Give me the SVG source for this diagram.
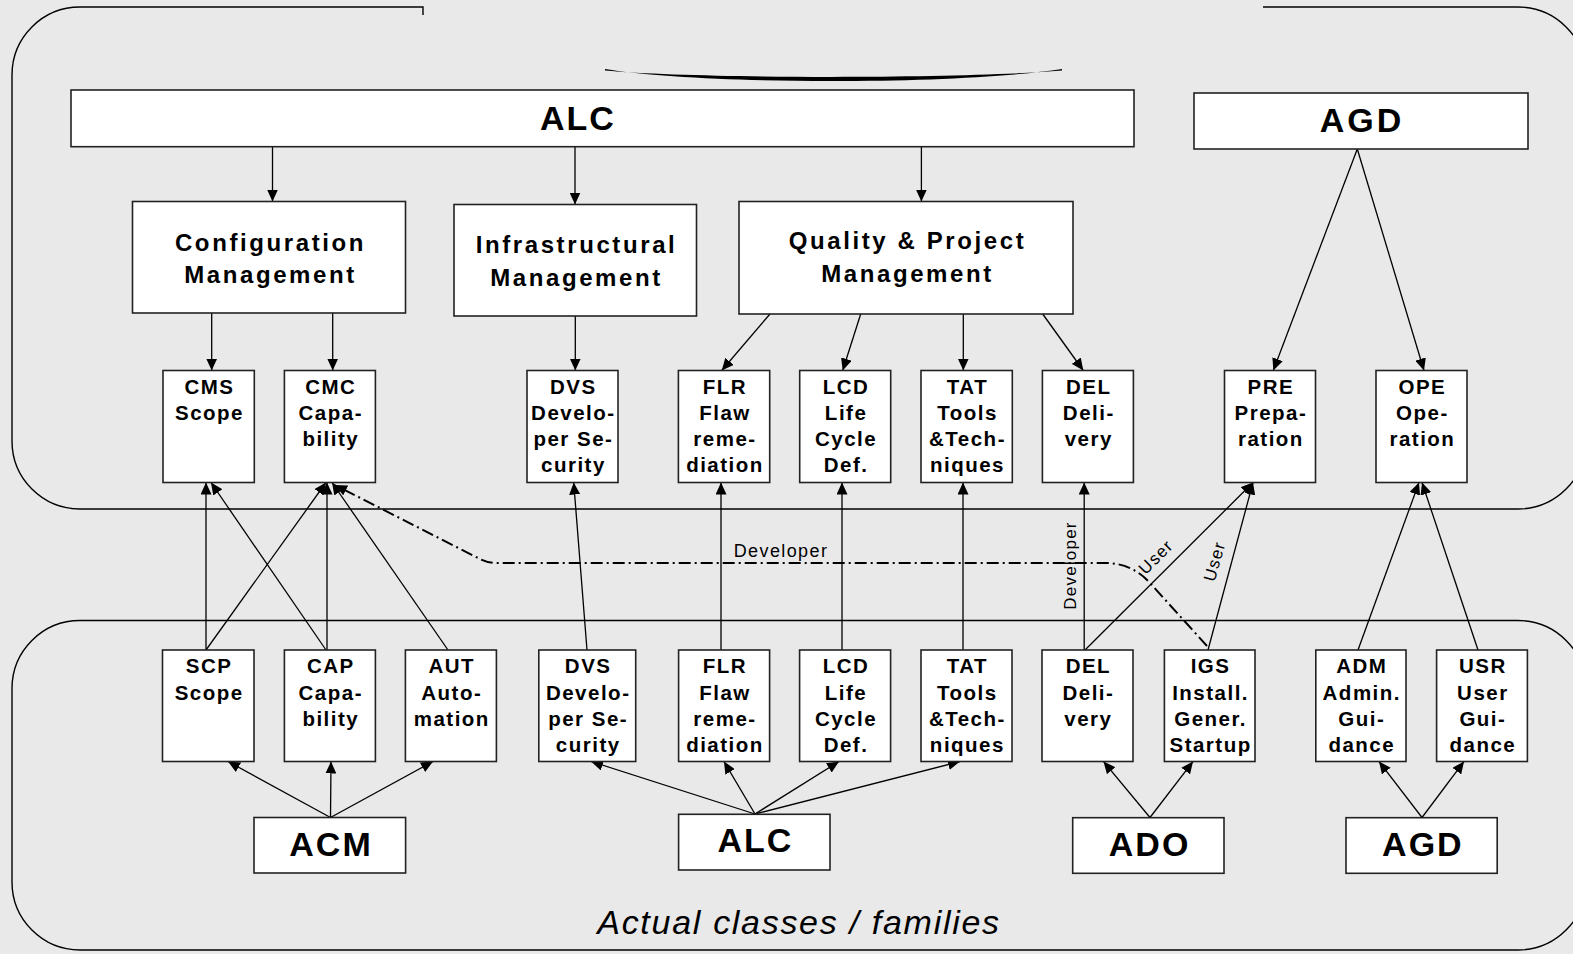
<svg xmlns="http://www.w3.org/2000/svg" width="1573" height="954" viewBox="0 0 1573 954">
<style>
.bg{fill:#e9e9e9}
.cont{fill:none;stroke:#000;stroke-width:1.4}
.box{fill:#fff;stroke:#222;stroke-width:1.6}
.t{font-family:"Liberation Sans",Arial,sans-serif;font-weight:bold;fill:#000;text-anchor:middle}
.big{font-size:24px;letter-spacing:2.6px}
.sm{font-size:20.5px;letter-spacing:1.5px}
.fam{font-size:34px;letter-spacing:2px}
.lbl{font-family:"Liberation Sans",Arial,sans-serif;fill:#000;text-anchor:middle;font-size:17px;letter-spacing:1.2px}
.cap{font-family:"Liberation Sans",Arial,sans-serif;font-style:italic;fill:#000;text-anchor:middle;font-size:34px;letter-spacing:1.7px}
.ln{fill:none;stroke:#000;stroke-width:1.3;marker-end:url(#ah)}
.dd{fill:none;stroke:#000;stroke-width:2;stroke-dasharray:12 4 2 4;marker-end:url(#ah)}
</style>
<defs>
<marker id="ah" markerUnits="userSpaceOnUse" viewBox="0 0 12 11" markerWidth="12" markerHeight="11" refX="12" refY="5.5" orient="auto">
<path d="M0,0 L12,5.5 L0,11 Z" fill="#000"/>
</marker>
</defs>
<rect class="bg" x="0" y="0" width="1573" height="954"/>
<g id="containers">
<path class="cont" d="M423,15 V7 H80 A68,68 0 0 0 12,75 V441 A68,68 0 0 0 80,509 H1518 A68,68 0 0 0 1586,441 V75 A68,68 0 0 0 1518,7 H1263"/>
<path d="M605,69 C700,85 960,85 1062,69 L1062,70.5 C960,79 700,79 605,70.5 Z" fill="#000"/>
<path class="cont" d="M80,620.5 A68,68 0 0 0 12,688.5 V882 A68,68 0 0 0 80,950 H1518 A68,68 0 0 0 1586,882 V688.5 A68,68 0 0 0 1518,620.5 Z"/>
<text class="cap" x="799" y="934">Actual classes / families</text>
</g>
<g id="connectors">
<line class="ln" x1="272.5" y1="146.7" x2="272.5" y2="201.5"/>
<line class="ln" x1="575" y1="146.7" x2="575" y2="204.5"/>
<line class="ln" x1="921.4" y1="146.7" x2="921.4" y2="201.5"/>
<line class="ln" x1="211.7" y1="313" x2="211.7" y2="370.5"/>
<line class="ln" x1="332.7" y1="313" x2="332.7" y2="370.5"/>
<line class="ln" x1="575.3" y1="316" x2="575.3" y2="370.5"/>
<line class="ln" x1="770" y1="314" x2="721.7" y2="370.5"/>
<line class="ln" x1="860.7" y1="314" x2="842.7" y2="370.5"/>
<line class="ln" x1="963.3" y1="314" x2="963.3" y2="370.5"/>
<line class="ln" x1="1042.7" y1="314" x2="1083.3" y2="370.5"/>
<line class="ln" x1="1357.3" y1="149" x2="1273.3" y2="370.5"/>
<line class="ln" x1="1357.3" y1="149" x2="1424" y2="370.5"/>
<line class="ln" x1="206" y1="650" x2="206" y2="482.5"/>
<line class="ln" x1="326" y1="650" x2="211" y2="482.5"/>
<line class="ln" x1="206" y1="650" x2="326" y2="482.5"/>
<line class="ln" x1="327" y1="650" x2="327" y2="482.5"/>
<line class="ln" x1="448" y1="650" x2="332" y2="482.5"/>
<line class="ln" x1="587" y1="650" x2="573.7" y2="482.5"/>
<line class="ln" x1="721" y1="650" x2="721" y2="482.5"/>
<line class="ln" x1="842" y1="650" x2="842" y2="482.5"/>
<line class="ln" x1="963" y1="650" x2="963" y2="482.5"/>
<line class="ln" x1="1084.2" y1="650" x2="1084.2" y2="482.5"/>
<line class="ln" x1="1085" y1="650" x2="1253" y2="482.5"/>
<line class="ln" x1="1208" y1="650" x2="1253" y2="482.5"/>
<line class="ln" x1="1358" y1="650" x2="1419" y2="482.5"/>
<line class="ln" x1="1478" y1="650" x2="1422" y2="482.5"/>
<path class="dd" d="M1207,646 L1150,583 Q1132,563 1105,563 H497 Q488,563 480,559 L335,485"/>
<line class="ln" x1="330.5" y1="817.5" x2="228" y2="761.5"/>
<line class="ln" x1="330.5" y1="817.5" x2="331" y2="761.5"/>
<line class="ln" x1="330.5" y1="817.5" x2="433" y2="761.5"/>
<line class="ln" x1="755" y1="814" x2="591" y2="761.5"/>
<line class="ln" x1="755" y1="814" x2="724" y2="761.5"/>
<line class="ln" x1="755" y1="814" x2="839" y2="761.5"/>
<line class="ln" x1="755" y1="814" x2="960" y2="761.5"/>
<line class="ln" x1="1150" y1="817.5" x2="1103.5" y2="761.5"/>
<line class="ln" x1="1150" y1="817.5" x2="1193" y2="761.5"/>
<line class="ln" x1="1422" y1="817.5" x2="1379" y2="761.5"/>
<line class="ln" x1="1422" y1="817.5" x2="1464" y2="761.5"/>
<text class="lbl" x="781" y="557" style="font-size:18px;letter-spacing:1.4px">Developer</text>
<text class="lbl" transform="translate(1076,565.5) rotate(-90)">Developer</text>
<text class="lbl" transform="translate(1160,561) rotate(-45)">User</text>
<text class="lbl" transform="translate(1220,563) rotate(-74)">User</text>
</g>
<g id="n-alc-top"><rect class="box" x="71" y="90" width="1063" height="56.7"/><text class="t fam" x="578" y="129.5">ALC</text></g>
<g id="n-agd-top"><rect class="box" x="1194" y="93" width="334" height="56"/><text class="t fam" x="1362" y="131.7" style="letter-spacing:3px">AGD</text></g>
<g id="n-config"><rect class="box" x="132.5" y="201.5" width="273" height="111.5"/><text class="t big" x="270.5" y="250.5">Configuration</text><text class="t big" x="270.5" y="283">Management</text></g>
<g id="n-infra"><rect class="box" x="454" y="204.5" width="242.5" height="111.5"/><text class="t big" x="576.5" y="252.7">Infrastructural</text><text class="t big" x="576.5" y="285.7">Management</text></g>
<g id="n-quality"><rect class="box" x="739" y="201.5" width="334" height="112.5"/><text class="t big" x="907.5" y="249.3">Quality &amp; Project</text><text class="t big" x="907.5" y="282.3">Management</text></g>
<g id="n-cms"><rect class="box" x="163" y="370.5" width="91.3" height="112"/><text class="t sm" x="209.5" y="394">CMS</text><text class="t sm" x="209.5" y="420">Scope</text></g>
<g id="n-cmc"><rect class="box" x="284.4" y="370.5" width="91" height="112"/><text class="t sm" x="330.8" y="394">CMC</text><text class="t sm" x="330.8" y="420">Capa-</text><text class="t sm" x="330.8" y="446">bility</text></g>
<g id="n-dvs-up"><rect class="box" x="527" y="370.5" width="91" height="112"/><text class="t sm" x="573.4" y="394">DVS</text><text class="t sm" x="573.4" y="420">Develo-</text><text class="t sm" x="573.4" y="446">per Se-</text><text class="t sm" x="573.4" y="472">curity</text></g>
<g id="n-flr-up"><rect class="box" x="678.4" y="370.5" width="91.3" height="112"/><text class="t sm" x="725" y="394">FLR</text><text class="t sm" x="725" y="420">Flaw</text><text class="t sm" x="725" y="446">reme-</text><text class="t sm" x="725" y="472">diation</text></g>
<g id="n-lcd-up"><rect class="box" x="799.7" y="370.5" width="91" height="112"/><text class="t sm" x="846.1" y="394">LCD</text><text class="t sm" x="846.1" y="420">Life</text><text class="t sm" x="846.1" y="446">Cycle</text><text class="t sm" x="846.1" y="472">Def.</text></g>
<g id="n-tat-up"><rect class="box" x="921" y="370.5" width="91.3" height="112"/><text class="t sm" x="967.5" y="394">TAT</text><text class="t sm" x="967.5" y="420">Tools</text><text class="t sm" x="967.5" y="446">&amp;Tech-</text><text class="t sm" x="967.5" y="472">niques</text></g>
<g id="n-del-up"><rect class="box" x="1042.4" y="370.5" width="91" height="112"/><text class="t sm" x="1088.8" y="394">DEL</text><text class="t sm" x="1088.8" y="420">Deli-</text><text class="t sm" x="1088.8" y="446">very</text></g>
<g id="n-pre"><rect class="box" x="1224.5" y="370.5" width="91" height="112"/><text class="t sm" x="1270.9" y="394">PRE</text><text class="t sm" x="1270.9" y="420">Prepa-</text><text class="t sm" x="1270.9" y="446">ration</text></g>
<g id="n-ope"><rect class="box" x="1376" y="370.5" width="91" height="112"/><text class="t sm" x="1422.4" y="394">OPE</text><text class="t sm" x="1422.4" y="420">Ope-</text><text class="t sm" x="1422.4" y="446">ration</text></g>
<g id="n-scp"><rect class="box" x="162.5" y="650" width="91.5" height="111.5"/><text class="t sm" x="209.2" y="673.3">SCP</text><text class="t sm" x="209.2" y="700">Scope</text></g>
<g id="n-cap"><rect class="box" x="284.4" y="650" width="91" height="111.5"/><text class="t sm" x="330.8" y="673.3">CAP</text><text class="t sm" x="330.8" y="700">Capa-</text><text class="t sm" x="330.8" y="726">bility</text></g>
<g id="n-aut"><rect class="box" x="405.4" y="650" width="91" height="111.5"/><text class="t sm" x="451.8" y="673.3">AUT</text><text class="t sm" x="451.8" y="700">Auto-</text><text class="t sm" x="451.8" y="726">mation</text></g>
<g id="n-dvs-lo"><rect class="box" x="538.8" y="650" width="96.9" height="111.5"/><text class="t sm" x="588.2" y="673.3">DVS</text><text class="t sm" x="588.2" y="700">Develo-</text><text class="t sm" x="588.2" y="726">per Se-</text><text class="t sm" x="588.2" y="752">curity</text></g>
<g id="n-flr-lo"><rect class="box" x="678.6" y="650" width="91" height="111.5"/><text class="t sm" x="725" y="673.3">FLR</text><text class="t sm" x="725" y="700">Flaw</text><text class="t sm" x="725" y="726">reme-</text><text class="t sm" x="725" y="752">diation</text></g>
<g id="n-lcd-lo"><rect class="box" x="799.6" y="650" width="91" height="111.5"/><text class="t sm" x="846" y="673.3">LCD</text><text class="t sm" x="846" y="700">Life</text><text class="t sm" x="846" y="726">Cycle</text><text class="t sm" x="846" y="752">Def.</text></g>
<g id="n-tat-lo"><rect class="box" x="921" y="650" width="91" height="111.5"/><text class="t sm" x="967.4" y="673.3">TAT</text><text class="t sm" x="967.4" y="700">Tools</text><text class="t sm" x="967.4" y="726">&amp;Tech-</text><text class="t sm" x="967.4" y="752">niques</text></g>
<g id="n-del-lo"><rect class="box" x="1042" y="650" width="91" height="111.5"/><text class="t sm" x="1088.4" y="673.3">DEL</text><text class="t sm" x="1088.4" y="700">Deli-</text><text class="t sm" x="1088.4" y="726">very</text></g>
<g id="n-igs"><rect class="box" x="1164.4" y="650" width="90.6" height="111.5"/><text class="t sm" x="1210.6" y="673.3">IGS</text><text class="t sm" x="1210.6" y="700">Install.</text><text class="t sm" x="1210.6" y="726">Gener.</text><text class="t sm" x="1210.6" y="752">Startup</text></g>
<g id="n-adm"><rect class="box" x="1315.8" y="650" width="90.2" height="111.5"/><text class="t sm" x="1361.8" y="673.3">ADM</text><text class="t sm" x="1361.8" y="700">Admin.</text><text class="t sm" x="1361.8" y="726">Gui-</text><text class="t sm" x="1361.8" y="752">dance</text></g>
<g id="n-usr"><rect class="box" x="1436.6" y="650" width="90.8" height="111.5"/><text class="t sm" x="1482.9" y="673.3">USR</text><text class="t sm" x="1482.9" y="700">User</text><text class="t sm" x="1482.9" y="726">Gui-</text><text class="t sm" x="1482.9" y="752">dance</text></g>
<g id="n-acm"><rect class="box" x="254" y="817.5" width="151.6" height="55.5"/><text class="t fam" x="331" y="856">ACM</text></g>
<g id="n-alc-lo"><rect class="box" x="678.6" y="814.3" width="151.4" height="55.7"/><text class="t fam" x="755.5" y="852">ALC</text></g>
<g id="n-ado"><rect class="box" x="1072.7" y="817.7" width="151.3" height="55.6"/><text class="t fam" x="1149.6" y="856">ADO</text></g>
<g id="n-agd-lo"><rect class="box" x="1346" y="817.7" width="151.2" height="55.6"/><text class="t fam" x="1422.9" y="856">AGD</text></g>
</svg>
